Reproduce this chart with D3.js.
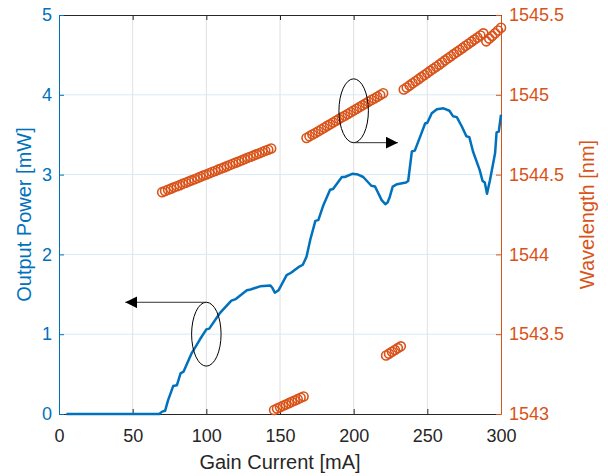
<!DOCTYPE html>
<html>
<head>
<meta charset="utf-8">
<script src="https://cdn.jsdelivr.net/npm/d3@7"></script>
<style>
  body { margin: 0; background: #fff; }
  text { font-family: "Liberation Sans", Arial, Helvetica, sans-serif; }
</style>
</head>
<body>
<svg id="chart" width="608" height="476"></svg>
<script>
// ----------------------
// data
// ----------------------
const powerCurrent = [5, 68, 70, 72, 74, 77.5, 80, 82.5, 84.5, 90, 95.5, 100, 102, 109, 117, 120, 127.5, 130,
  136.5, 143.5, 145, 146.5, 149, 154.5, 157.5, 162.5, 165.5, 168, 170.5, 174, 176, 179.5, 184, 186, 192, 194,
  199, 203, 206.5, 212, 214.5, 219, 221.5, 223, 224.5, 226.5, 229.5, 235.5, 237, 239.5, 241.5, 245, 248.5, 250,
  253, 256.5, 261, 265, 267.5, 270, 273.5, 276.5, 278.5, 281, 285.5, 287.5, 289, 290.5, 292.5, 296, 297, 298.5, 300];
const powerValues = [0, 0, 0.03, 0.04, 0.17, 0.35, 0.36, 0.51, 0.53, 0.76, 0.93, 1.06, 1.07, 1.26, 1.42, 1.44, 1.55, 1.56,
  1.60, 1.61, 1.575, 1.52, 1.55, 1.74, 1.77, 1.84, 1.87, 1.97, 2.18, 2.42, 2.43, 2.62, 2.81, 2.82, 2.97, 2.97,
  3.01, 3.00, 2.97, 2.86, 2.85, 2.68, 2.63, 2.65, 2.72, 2.85, 2.88, 2.90, 2.92, 3.29, 3.30, 3.47, 3.64, 3.65,
  3.77, 3.82, 3.83, 3.80, 3.73, 3.72, 3.60, 3.48, 3.47, 3.29, 3.06, 2.92, 2.90, 2.76, 2.93, 3.27, 3.53, 3.54, 3.75];

const wlCurrent = [70, 72, 74, 76, 78, 80, 82, 84, 86, 88, 90, 92, 94, 96, 98, 100, 102, 104, 106, 108, 110, 112,
  114, 116, 118, 120, 122, 124, 126, 128, 130, 132, 134, 136, 138, 140, 142, 144,
  146, 148, 150, 152, 154, 156, 158, 160, 162, 164, 166,
  168, 170, 172, 174, 176, 178, 180, 182, 184, 186, 188, 190, 192, 194, 196, 198, 200, 202, 204, 206, 208, 210,
  212, 214, 216, 218, 220,
  222, 224, 226, 228, 230, 232,
  234, 236, 238, 240, 242, 244, 246, 248, 250, 252, 254, 256, 258, 260, 262, 264, 266, 268, 270, 272, 274, 276,
  278, 280, 282, 284, 286, 288,
  290, 292, 294, 296, 298, 300];
const wlValues = [1544.390, 1544.397, 1544.405, 1544.412, 1544.420, 1544.427, 1544.434, 1544.442, 1544.449,
  1544.457, 1544.464, 1544.471, 1544.479, 1544.486, 1544.494, 1544.501, 1544.508, 1544.516, 1544.523, 1544.531,
  1544.538, 1544.545, 1544.553, 1544.560, 1544.568, 1544.575, 1544.582, 1544.590, 1544.597, 1544.605, 1544.612,
  1544.619, 1544.627, 1544.634, 1544.642, 1544.649, 1544.656, 1544.664,
  1543.025, 1543.034, 1543.042, 1543.051, 1543.059, 1543.068, 1543.076, 1543.085, 1543.093, 1543.102, 1543.110,
  1544.729, 1544.740, 1544.751, 1544.761, 1544.772, 1544.783, 1544.794, 1544.805, 1544.815, 1544.826, 1544.837,
  1544.848, 1544.859, 1544.869, 1544.880, 1544.891, 1544.902, 1544.913, 1544.923, 1544.934, 1544.945, 1544.956,
  1544.967, 1544.977, 1544.988, 1544.999, 1545.010,
  1543.367, 1543.378, 1543.390, 1543.401, 1543.413, 1543.424,
  1545.033, 1545.046, 1545.059, 1545.072, 1545.085, 1545.098, 1545.111, 1545.124, 1545.137, 1545.150, 1545.163,
  1545.176, 1545.189, 1545.202, 1545.216, 1545.229, 1545.242, 1545.255, 1545.268, 1545.281, 1545.294, 1545.307,
  1545.320, 1545.333, 1545.346, 1545.359, 1545.372, 1545.385,
  1545.335, 1545.352, 1545.369, 1545.386, 1545.403, 1545.420];

const xTicks = [0, 50, 100, 150, 200, 250, 300];
const powerTicks = [0, 1, 2, 3, 4, 5];
const wlTicks = [1543, 1543.5, 1544, 1544.5, 1545, 1545.5];

// annotation ellipses (data units): left one on power axis, right one on wavelength axis
const leftNote = { x: 100, y: 1.0, rx: 10, ry: 0.4, arrowTo: 45 };
const rightNote = { x: 200, y: 1544.9, rx: 10, ry: 0.2, arrowTo: 230 };

// ----------------------
// layout
// ----------------------
const blue = "#0072BD";
const orange = "#D95319";
const dark = "#262626";

const svg = d3.select("#chart");
const plot = { left: 59, right: 501, top: 15, bottom: 414 };

const x = d3.scaleLinear().domain([0, 300]).range([plot.left, plot.right]);
const yP = d3.scaleLinear().domain([0, 5]).range([plot.bottom, plot.top]);
const yW = d3.scaleLinear().domain([1543, 1545.5]).range([plot.bottom, plot.top]);

// grid
svg.append("g").selectAll("line")
    .data(xTicks.slice(1, -1))
    .join("line")
    .attr("x1", d => x(d)).attr("x2", d => x(d))
    .attr("y1", plot.top).attr("y2", plot.bottom)
    .attr("stroke", "#e0e0e0").attr("stroke-width", 1);

svg.append("g").selectAll("line")
    .data(powerTicks.slice(1, -1))
    .join("line")
    .attr("x1", plot.left).attr("x2", plot.right)
    .attr("y1", d => yP(d)).attr("y2", d => yP(d))
    .attr("stroke", "#dae9f5").attr("stroke-width", 1);

// ----------------------
// axes
// ----------------------
const fontSize = 18;

function styleAxis(g, color) {
    g.select(".domain").attr("stroke", color).attr("stroke-width", 1);
    g.selectAll(".tick line").attr("stroke", color);
    g.selectAll(".tick text")
        .attr("fill", color)
        .style("font-size", fontSize + "px")
        .style("font-family", "'Liberation Sans', Arial, sans-serif");
}

svg.append("g")
    .attr("transform", `translate(0,${plot.top})`)
    .call(d3.axisTop(x).tickValues(xTicks).tickSize(-5).tickSizeOuter(0).tickFormat(""))
    .call(g => styleAxis(g, dark));

svg.append("g")
    .attr("transform", `translate(0,${plot.bottom})`)
    .call(d3.axisBottom(x).tickValues(xTicks).tickSize(-5).tickSizeOuter(0).tickPadding(15))
    .call(g => styleAxis(g, dark));

svg.append("g")
    .attr("transform", `translate(${plot.left},0)`)
    .call(d3.axisLeft(yP).tickValues(powerTicks).tickSize(-5).tickSizeOuter(0).tickPadding(7).tickFormat(d3.format("d")))
    .call(g => styleAxis(g, blue));

svg.append("g")
    .attr("transform", `translate(${plot.right},0)`)
    .call(d3.axisRight(yW).tickValues(wlTicks).tickSize(-5).tickSizeOuter(0).tickPadding(8).tickFormat(d => String(d)))
    .call(g => styleAxis(g, orange));

// axis labels
svg.append("text")
    .attr("x", (plot.left + plot.right) / 2)
    .attr("y", 469)
    .attr("text-anchor", "middle")
    .attr("fill", dark)
    .style("font-size", "20px")
    .text("Gain Current [mA]");

svg.append("text")
    .attr("transform", `translate(31,${(plot.top + plot.bottom) / 2}) rotate(-90)`)
    .attr("text-anchor", "middle")
    .attr("fill", blue)
    .style("font-size", "20px")
    .text("Output Power [mW]");

svg.append("text")
    .attr("transform", `translate(594,${(plot.top + plot.bottom) / 2}) rotate(-90)`)
    .attr("text-anchor", "middle")
    .attr("fill", orange)
    .style("font-size", "20px")
    .text("Wavelength [nm]");

// ----------------------
// series
// ----------------------
const powerData = powerCurrent.map((c, i) => ({ c, v: powerValues[i] }));
const wlData = wlCurrent.map((c, i) => ({ c, v: wlValues[i] }));

svg.append("path")
    .datum(powerData)
    .attr("fill", "none")
    .attr("stroke", blue)
    .attr("stroke-width", 2.5)
    .attr("stroke-linejoin", "round")
    .attr("d", d3.line().x(d => x(d.c)).y(d => yP(d.v)));

svg.append("g").selectAll("circle")
    .data(wlData)
    .join("circle")
    .attr("cx", d => x(d.c))
    .attr("cy", d => yW(d.v))
    .attr("r", 4.5)
    .attr("fill", "none")
    .attr("stroke", orange)
    .attr("stroke-width", 1.6);

// ----------------------
// annotations
// ----------------------
svg.append("defs").append("marker")
    .attr("id", "head")
    .attr("viewBox", "0 0 12 12")
    .attr("refX", 12).attr("refY", 6)
    .attr("markerWidth", 12).attr("markerHeight", 12)
    .attr("markerUnits", "userSpaceOnUse")
    .attr("orient", "auto")
    .append("path")
    .attr("d", "M0,0L12,6L0,12Z")
    .attr("fill", "#000");

function note(n, yScale, fromTop) {
    const cx = x(n.x), cy = yScale(n.y);
    const rx = x(n.x + n.rx) - cx;
    const ry = yScale(n.y) - yScale(n.y + n.ry);
    svg.append("ellipse")
        .attr("cx", cx).attr("cy", cy)
        .attr("rx", rx).attr("ry", ry)
        .attr("fill", "none").attr("stroke", "#000").attr("stroke-width", 1);
    const ay = fromTop ? cy - ry : cy + ry;
    svg.append("line")
        .attr("x1", cx).attr("y1", ay)
        .attr("x2", x(n.arrowTo)).attr("y2", ay)
        .attr("stroke", "#333").attr("stroke-width", 1)
        .attr("marker-end", "url(#head)");
}

note(leftNote, yP, true);
note(rightNote, yW, false);
</script>
</body>
</html>
